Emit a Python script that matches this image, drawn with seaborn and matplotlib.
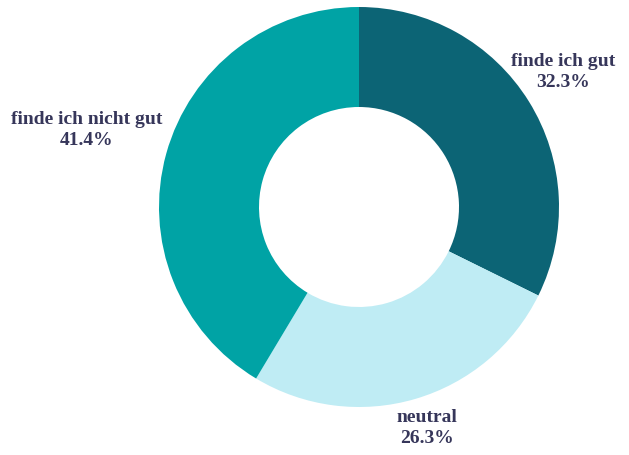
import matplotlib
matplotlib.use("Agg")
import matplotlib.pyplot as plt
import seaborn as sns

categories = ["finde ich gut", "neutral", "finde ich nicht gut"]
shares = [32.3, 26.3, 41.4]
colors = ["#0c6475", "#bfecf4", "#00a3a5"]

# label anchor points in pie data units (layout only)
label_pos = [(1.02, 0.68), (0.34, -1.10), (-1.36, 0.39)]

sns.set_theme(style="white")
plt.rcParams["font.family"] = ["Liberation Serif", "DejaVu Serif"]

fig = plt.figure(figsize=(6.29, 4.56), dpi=100)
ax = fig.add_axes([159 / 629, 48 / 456, 400 / 629, 400 / 456])

ax.pie(shares, colors=colors, startangle=90, counterclock=False,
       radius=1.0, wedgeprops=dict(width=0.5, linewidth=0))

for name, val, (x, y) in zip(categories, shares, label_pos):
    ax.text(x, y, f"{name}\n{val:.1f}%", ha="center", va="center",
            fontsize=14, fontweight="bold", color="#36365a",
            linespacing=1.3)

ax.set_xlim(-1, 1)
ax.set_ylim(-1, 1)
ax.set_aspect("equal")
ax.axis("off")

fig.savefig("out.png", dpi=100)
